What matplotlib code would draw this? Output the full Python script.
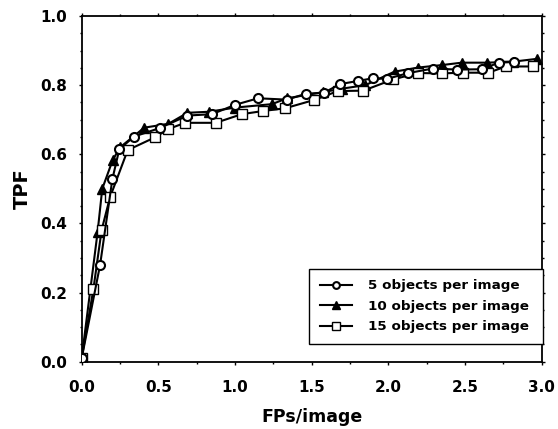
import matplotlib
matplotlib.use("Agg")
import matplotlib.pyplot as plt
from matplotlib.ticker import MultipleLocator

plt.rcParams['font.family'] = ['DejaVu Sans']
plt.rcParams['font.weight'] = 'bold'

x5 = [0.0, 0.12, 0.20, 0.245, 0.34, 0.51, 0.69, 0.85, 1.0, 1.15, 1.34, 1.46, 1.58,
      1.685, 1.80, 1.90, 1.99, 2.13, 2.29, 2.45, 2.61, 2.72, 2.82]
y5 = [0.01, 0.28, 0.528, 0.614, 0.651, 0.676, 0.712, 0.716, 0.743, 0.762, 0.758, 0.775, 0.778,
      0.803, 0.812, 0.82, 0.818, 0.835, 0.848, 0.845, 0.846, 0.865, 0.867]

x10 = [0.0, 0.104, 0.134, 0.202, 0.25, 0.408, 0.565, 0.69, 0.83, 1.0, 1.24, 1.34, 1.576,
       1.70, 1.85, 2.04, 2.196, 2.348, 2.478, 2.646, 2.815, 2.968]
y10 = [0.01, 0.376, 0.50, 0.583, 0.62, 0.677, 0.688, 0.72, 0.723, 0.735, 0.745, 0.762, 0.78,
       0.79, 0.80, 0.839, 0.851, 0.858, 0.865, 0.865, 0.868, 0.876]

x15 = [0.0, 0.076, 0.13, 0.185, 0.30, 0.478, 0.565, 0.674, 0.874, 1.044, 1.18, 1.326, 1.515,
       1.672, 1.837, 2.033, 2.193, 2.35, 2.485, 2.652, 2.767, 2.945]
y15 = [0.01, 0.209, 0.381, 0.476, 0.612, 0.649, 0.673, 0.691, 0.691, 0.716, 0.725, 0.733, 0.757,
       0.783, 0.784, 0.817, 0.835, 0.834, 0.836, 0.836, 0.854, 0.854]

labels = ["5 objects per image", "10 objects per image", "15 objects per image"]

fig = plt.figure(figsize=(5.58, 4.29), dpi=100)
ax = fig.add_axes([0.1464, 0.1569, 0.8244, 0.8058])

ax.plot(x5, y5, color='black', lw=1.5, marker='o', ms=6.5, mfc='white', mec='black', mew=1.5,
        label=labels[0], zorder=3)
ax.plot(x10, y10, color='black', lw=1.5, marker='^', ms=7, mfc='black', mec='black', mew=1,
        label=labels[1], zorder=2)
ax.plot(x15, y15, color='black', lw=1.5, marker='s', ms=7, mfc='white', mec='black', mew=1,
        label=labels[2], zorder=2)

ax.set_xlim(0, 3.0)
ax.set_ylim(0, 1.0)
ax.xaxis.set_major_locator(MultipleLocator(0.5))
ax.xaxis.set_minor_locator(MultipleLocator(0.25))
ax.yaxis.set_major_locator(MultipleLocator(0.2))
ax.yaxis.set_minor_locator(MultipleLocator(0.05))
ax.tick_params(which='both', direction='out', top=True, right=True, labelsize=11, width=1)
ax.tick_params(which='major', length=2.5)
ax.tick_params(which='minor', length=1.5)
ax.tick_params(axis='y', which='major', pad=8)
ax.tick_params(axis='x', which='major', pad=11)
ax.set_xticklabels([f"{v:.1f}" for v in ax.get_xticks()], fontweight='bold')
ax.set_yticklabels([f"{v:.1f}" for v in ax.get_yticks()], fontweight='bold')
for s in ax.spines.values():
    s.set_linewidth(1.3)

ax.set_xlabel("FPs/image", fontsize=12.5, fontweight='bold', labelpad=9)
ax.set_ylabel("TPF", fontsize=14, fontweight='bold', labelpad=6)

leg = ax.legend(loc='lower left', bbox_to_anchor=(0.494, 0.051, 0.508, 0.217), mode='expand',
                borderaxespad=0, fancybox=False, edgecolor='black', framealpha=1,
                prop={'size': 9.7, 'weight': 'bold'},
                handlelength=2.4, markerscale=0.75, labelspacing=0.55, borderpad=0.8,
                handletextpad=1.2)
leg.get_frame().set_linewidth(1.0)

fig.savefig("out.png", dpi=100)
